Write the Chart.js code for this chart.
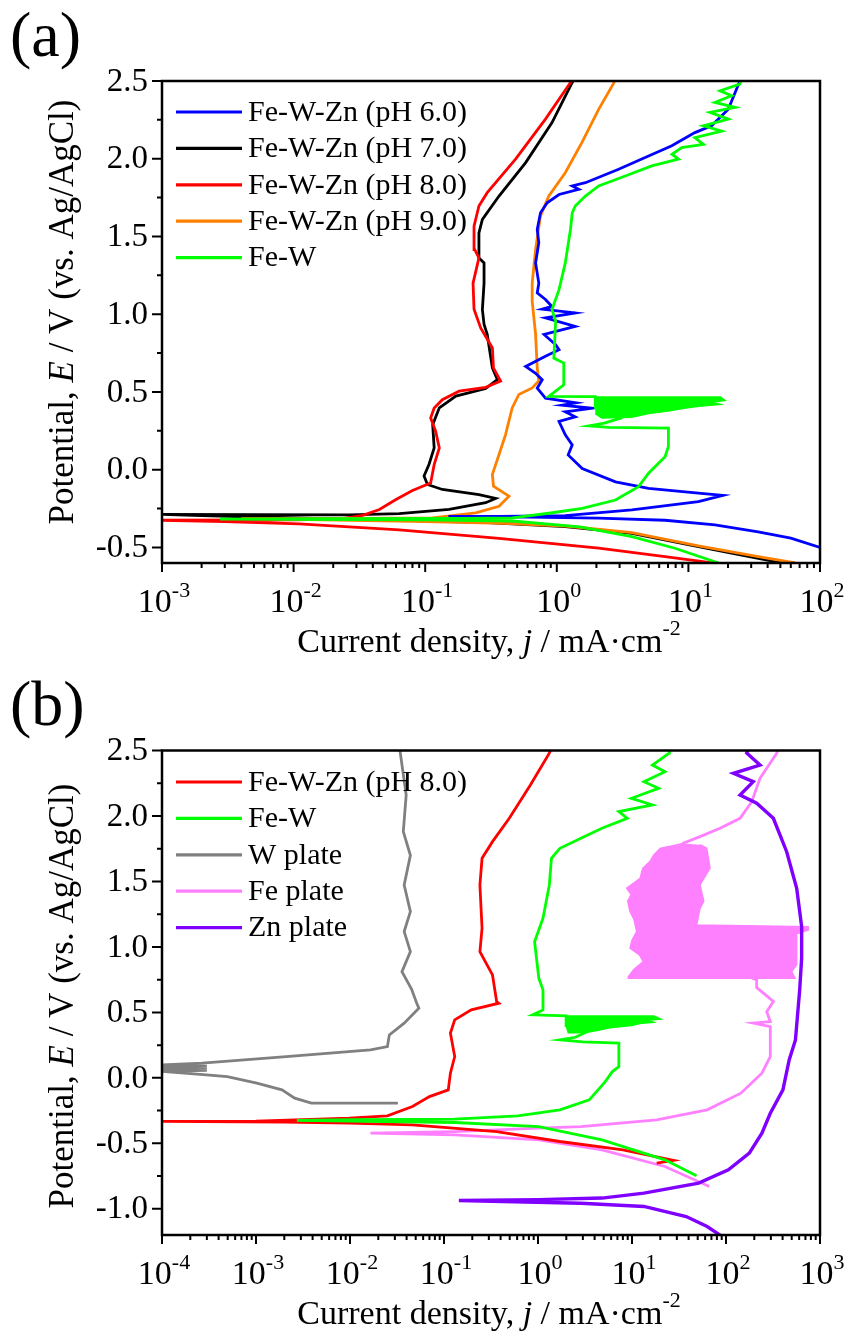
<!DOCTYPE html>
<html>
<head>
<meta charset="utf-8">
<script src="https://cdn.jsdelivr.net/npm/chart.js@4"></script>
<style>
  html, body { margin: 0; padding: 0; background: #fff; }
  canvas { display: block; }
</style>
</head>
<body>
<canvas id="chartA" width="844" height="669"></canvas>
<canvas id="chartB" width="844" height="669"></canvas>
<script>
// Polarization curves, points are [j (mA cm-2), E (V vs. Ag/AgCl)]

// ---------- panel (a) ----------
const tickExpA = [-3, -2, -1, 0, 1, 2];
const yTicksA = [-0.5, 0.0, 0.5, 1.0, 1.5, 2.0, 2.5];

const fewzn6A = [[100,-0.50],[60,-0.44],[33.9,-0.40],[15.9,-0.355],[6.65,-0.325],[2.08,-0.312],[0.6,-0.305],[0.15,-0.30],[0.364,-0.30],[1.16,-0.295],[3.72,-0.258],[11.9,-0.205],[18.3,-0.165],[11.9,-0.15],[4.98,-0.12],[2.79,-0.078],[1.56,0.008],[1.22,0.095],[1.31,0.16],[1.16,0.225],[1.04,0.31],[1.38,0.34],[1.16,0.372],[1.85,0.395],[1.1,0.415],[1.4,0.43],[0.82,0.46],[0.71,0.524],[0.775,0.578],[0.69,0.62],[0.58,0.664],[0.82,0.73],[1.04,0.772],[0.98,0.804],[0.80,0.87],[1.38,0.922],[0.82,0.976],[1.38,1.008],[0.775,1.032],[0.92,1.05],[0.82,1.095],[0.71,1.137],[0.73,1.2],[0.69,1.33],[0.73,1.46],[0.71,1.545],[0.752,1.652],[0.845,1.717],[1.04,1.77],[1.47,1.803],[1.31,1.825],[1.65,1.846],[2.95,1.932],[4.98,2.018],[7.48,2.083],[11.2,2.168],[15.0,2.212],[20.1,2.318],[24.6,2.5]];

const fewzn7A = [[52,-0.6],[34,-0.57],[11.9,-0.495],[3.72,-0.409],[1.16,-0.366],[0.3,-0.34],[0.05,-0.322],[0.005,-0.305],[0.0015,-0.292],[0.001,-0.287],[0.0266,-0.29],[0.0635,-0.283],[0.152,-0.255],[0.288,-0.212],[0.343,-0.185],[0.256,-0.16],[0.135,-0.127],[0.104,-0.095],[0.098,-0.04],[0.107,0.035],[0.117,0.14],[0.114,0.29],[0.128,0.398],[0.171,0.473],[0.288,0.522],[0.353,0.58],[0.324,0.655],[0.296,0.87],[0.28,0.935],[0.272,1.03],[0.28,1.2],[0.28,1.33],[0.256,1.362],[0.256,1.523],[0.272,1.61],[0.364,1.76],[0.58,1.975],[0.92,2.233],[1.29,2.48],[1.33,2.5]];

const fewzn8A = [[19,-0.61],[6.65,-0.559],[2.08,-0.505],[0.364,-0.441],[0.0635,-0.387],[0.011,-0.349],[0.003,-0.333],[0.001,-0.325],[0.01,-0.322],[0.0223,-0.318],[0.0335,-0.293],[0.0449,-0.256],[0.06,-0.192],[0.08,-0.134],[0.11,-0.085],[0.117,0.033],[0.128,0.14],[0.12,0.248],[0.11,0.333],[0.117,0.397],[0.135,0.45],[0.181,0.505],[0.288,0.53],[0.374,0.57],[0.33,0.655],[0.324,0.783],[0.264,0.912],[0.235,1.032],[0.231,1.2],[0.256,1.362],[0.238,1.416],[0.235,1.567],[0.256,1.696],[0.296,1.782],[0.486,1.997],[0.82,2.255],[1.27,2.49],[1.3,2.5]];

const fewzn9A = [[65,-0.6],[34,-0.559],[11.9,-0.49],[3.72,-0.405],[1.16,-0.362],[0.4,-0.345],[0.1,-0.333],[0.01,-0.32],[0.004,-0.315],[0.03,-0.313],[0.114,-0.31],[0.242,-0.278],[0.364,-0.235],[0.433,-0.17],[0.33,-0.106],[0.324,-0.03],[0.364,0.098],[0.408,0.226],[0.458,0.397],[0.515,0.484],[0.65,0.526],[0.73,0.57],[0.71,0.655],[0.69,0.87],[0.65,1.084],[0.65,1.2],[0.69,1.416],[0.75,1.631],[0.87,1.76],[1.16,1.91],[1.55,2.104],[2.08,2.318],[2.70,2.485],[2.75,2.5]];

const feWA = [[17,-0.6],[7.9,-0.505],[3.72,-0.43],[1.5,-0.368],[0.458,-0.33],[0.1,-0.322],[0.01,-0.32],[0.00275,-0.318],[0.02,-0.315],[0.2,-0.313],[0.458,-0.31],[0.87,-0.28],[1.56,-0.248],[2.79,-0.195],[4.18,-0.109],[4.98,-0.023],[6.65,0.084],[7.05,0.15],[7.05,0.267],[2.5,0.272],[1.75,0.282],[2.3,0.3],[3.0,0.33],[1.96,0.40],[1.96,0.47],[0.87,0.472],[1.13,0.546],[1.13,0.686],[0.95,0.718],[0.98,0.955],[0.92,1.03],[1.04,1.158],[1.16,1.33],[1.27,1.545],[1.31,1.652],[1.38,1.696],[1.65,1.76],[2.08,1.825],[3.31,1.889],[5.27,1.954],[8.4,1.997],[7.5,2.029],[8.9,2.072],[13.0,2.093],[11.2,2.136],[17.9,2.178],[13.0,2.212],[20.1,2.255],[14.6,2.298],[22.6,2.33],[15.9,2.362],[21.3,2.405],[17.4,2.437],[24.6,2.48],[25,2.5]];
// dense oscillation band of Fe-W between 0.33 and 0.47 V
const feWBandA = [[1.96,0.468],[17.5,0.468],[19.0,0.445],[15.0,0.435],[17.5,0.42],[12.0,0.408],[9.0,0.393],[7.0,0.378],[5.0,0.362],[3.7,0.338],[2.2,0.332],[1.96,0.36]];

// ---------- panel (b) ----------
const tickExpB = [-4, -3, -2, -1, 0, 1, 2, 3];
const yTicksB = [-1.0, -0.5, 0.0, 0.5, 1.0, 1.5, 2.0, 2.5];

const fewzn8B = [[18.3,-0.651],[27.6,-0.63],[8.0,-0.55],[1.71,-0.486],[0.363,-0.41],[0.046,-0.359],[0.01,-0.345],[0.002,-0.338],[0.0001,-0.333],[0.001,-0.33],[0.00986,-0.308],[0.025,-0.29],[0.0462,-0.219],[0.07,-0.143],[0.111,-0.092],[0.117,0.036],[0.13,0.163],[0.117,0.341],[0.13,0.443],[0.195,0.519],[0.383,0.57],[0.363,0.583],[0.328,0.786],[0.241,0.964],[0.254,1.143],[0.241,1.473],[0.254,1.677],[0.328,1.804],[0.495,1.982],[0.83,2.237],[1.32,2.48],[1.35,2.5]];

const feWB = [[48.6,-0.748],[22.4,-0.626],[4.79,-0.473],[1.02,-0.372],[0.13,-0.341],[0.01,-0.33],[0.00272,-0.325],[0.0109,-0.32],[0.13,-0.315],[0.61,-0.29],[1.71,-0.244],[3.51,-0.168],[5.04,-0.041],[6.19,0.048],[7.25,0.086],[7.25,0.265],[3.0,0.275],[1.71,0.29],[2.5,0.31],[3.16,0.345],[2.0,0.40],[1.99,0.473],[0.875,0.481],[1.13,0.519],[1.13,0.672],[1.02,0.761],[0.92,1.04],[1.13,1.219],[1.32,1.473],[1.39,1.677],[1.71,1.753],[2.86,1.83],[4.79,1.906],[8.9,1.982],[7.25,2.033],[16.5,2.084],[9.86,2.135],[19.2,2.211],[13.4,2.262],[22.4,2.338],[16.5,2.389],[24.9,2.48],[25,2.5]];
const feWBandB = [[1.99,0.473],[17,0.473],[20.2,0.45],[15,0.44],[17,0.425],[12,0.415],[10,0.40],[6,0.385],[4.5,0.365],[3.16,0.345],[2.1,0.345],[1.99,0.40]];

const wPlateB = [[0.0323,-0.193],[0.00389,-0.193],[0.00258,-0.155],[0.00189,-0.092],[0.00102,-0.04],[0.000495,0.01],[0.000296,0.023],[0.0001,0.05],[0.0003,0.058],[0.0001,0.066],[0.0003,0.074],[0.0001,0.082],[0.0003,0.09],[0.0001,0.099],[0.000267,0.112],[0.0021,0.163],[0.0165,0.214],[0.025,0.239],[0.0262,0.328],[0.0377,0.418],[0.054,0.532],[0.0513,0.57],[0.045,0.68],[0.0357,0.811],[0.0439,0.964],[0.0377,1.117],[0.0439,1.27],[0.0377,1.473],[0.0439,1.70],[0.0369,1.88],[0.0396,2.16],[0.034,2.5]];

const fePlateB = [[66.4,-0.83],[22.4,-0.677],[4.79,-0.55],[1.02,-0.473],[0.13,-0.435],[0.0165,-0.422],[0.13,-0.41],[1.02,-0.384],[2.86,-0.372],[18.3,-0.321],[63,-0.244],[144,-0.117],[241,0.036],[296,0.163],[296,0.392],[196,0.418],[296,0.43],[271,0.506],[319,0.583],[250,0.647],[212,0.69],[212,0.748],[30,1.0],[20,1.6],[35.1,1.792],[52.9,1.842],[86.3,1.906],[141,1.982],[188,2.109],[230,2.288],[346,2.479],[355,2.5]];
// unstable passive region of the Fe plate
const fePlateBandB = [[35.1,1.79],[19.9,1.753],[17,1.70],[15.5,1.651],[13,1.60],[12.2,1.524],[8.78,1.448],[9.8,1.40],[9.0,1.35],[9.52,1.27],[10.5,1.21],[11.2,1.117],[10,1.05],[9.52,0.99],[12,0.94],[13.2,0.888],[10.5,0.83],[9.14,0.773],[9.14,0.761],[542,0.761],[500,0.811],[565,0.863],[565,1.10],[752,1.13],[752,1.155],[48.7,1.168],[52.9,1.295],[58,1.35],[52.9,1.473],[67.6,1.601],[62.4,1.753],[52.9,1.78]];

const znPlateB = [[90.6,-1.211],[63,-1.135],[37.7,-1.059],[13.4,-0.982],[2.86,-0.957],[0.144,-0.937],[1.0,-0.93],[4.79,-0.918],[13.4,-0.88],[51.2,-0.804],[106,-0.702],[177,-0.575],[241,-0.422],[296,-0.27],[403,-0.092],[470,0.137],[548,0.29],[608,0.672],[638,0.914],[638,1.155],[565,1.448],[442,1.727],[319,1.982],[212,2.097],[141,2.16],[195,2.262],[120,2.326],[230,2.389],[166,2.48],[170,2.5]];

// ---------- drawing helpers ----------
const SERIF = '"Liberation Serif"';
const pts = arr => arr.map(([x, y]) => ({ x, y }));

function curve(label, arr, color, order, width) {
    return { label, data: pts(arr), borderColor: color, backgroundColor: color, borderWidth: width || 2.8,
             showLine: true, pointRadius: 0, tension: 0, fill: false, order };
}
function band(arr, color, order) {
    return { type: 'line', data: pts(arr), borderColor: color, backgroundColor: color, borderWidth: 1.5,
             pointRadius: 0, tension: 0, fill: 'shape', order };
}

function fontOf(size, italic) {
    return (italic ? 'italic ' : '') + size + 'px ' + SERIF;
}

// draw a row of text pieces (italic / superscript) centred on x
function drawRuns(ctx, runs, x, y) {
    let total = 0;
    runs.forEach(r => { ctx.font = fontOf(r.size, r.italic); r.w = ctx.measureText(r.text).width; total += r.w; });
    let cx = x - total / 2;
    ctx.textAlign = 'left';
    ctx.textBaseline = 'alphabetic';
    runs.forEach(r => { ctx.font = fontOf(r.size, r.italic); ctx.fillText(r.text, cx, y - (r.rise || 0)); cx += r.w; });
}

const frameAxes = {
    id: 'frameAxes',
    afterDraw(chart, args, o) {
        const { ctx, chartArea: a, scales: { x, y } } = chart;
        ctx.save();
        ctx.strokeStyle = '#000';
        ctx.fillStyle = '#000';

        // plot frame
        ctx.lineWidth = 2.5;
        ctx.strokeRect(a.left, a.top, a.right - a.left, a.bottom - a.top);

        // y ticks (major 0.5, minor 0.25), pointing out
        ctx.lineWidth = 2;
        ctx.beginPath();
        o.yTicks.forEach((v, i) => {
            const py = y.getPixelForValue(v);
            ctx.moveTo(a.left, py); ctx.lineTo(a.left - 10, py);
            if (i < o.yTicks.length - 1) {
                const pm = y.getPixelForValue(v + 0.25);
                ctx.moveTo(a.left, pm); ctx.lineTo(a.left - 5, pm);
            }
        });
        // x ticks, decades and 2..9 in between
        o.xExp.forEach((e, i) => {
            const px = x.getPixelForValue(Math.pow(10, e));
            ctx.moveTo(px, a.bottom); ctx.lineTo(px, a.bottom + 9);
            if (i < o.xExp.length - 1) {
                for (let m = 2; m < 10; m++) {
                    const pm = x.getPixelForValue(m * Math.pow(10, e));
                    ctx.moveTo(pm, a.bottom); ctx.lineTo(pm, a.bottom + 5);
                }
            }
        });
        ctx.stroke();

        // y tick labels
        ctx.font = fontOf(33);
        ctx.textAlign = 'right';
        ctx.textBaseline = 'middle';
        o.yTicks.forEach(v => ctx.fillText(v.toFixed(1), a.left - 14, y.getPixelForValue(v) + 1));

        // x tick labels 10^n
        o.xExp.forEach(e => {
            drawRuns(ctx, [{ text: '10', size: 34 }, { text: String(e), size: 22, rise: 15 }],
                     x.getPixelForValue(Math.pow(10, e)) + 2, a.bottom + 49);
        });

        // axis titles
        drawRuns(ctx, [
            { text: 'Current density, ', size: 34 },
            { text: 'j', size: 34, italic: true },
            { text: ' / mA\u00b7cm', size: 34 },
            { text: '-2', size: 22, rise: 17 }
        ], (a.left + a.right) / 2 - 2, a.bottom + 89);

        ctx.save();
        ctx.translate(73, o.yTitleY);
        ctx.rotate(-Math.PI / 2);
        drawRuns(ctx, [
            { text: 'Potential, ', size: 35 },
            { text: 'E', size: 35, italic: true },
            { text: ' / V (vs. Ag/AgCl)', size: 35 }
        ], 0, 0);
        ctx.restore();

        // panel letter
        ctx.font = fontOf(64);
        ctx.textAlign = 'left';
        ctx.textBaseline = 'alphabetic';
        ctx.fillText(o.panel, 10, 56);

        // legend
        const items = chart.data.datasets.filter(d => d.label);
        items.forEach((d, i) => {
            const ly = o.legendY + i * o.legendStep;
            ctx.strokeStyle = d.borderColor;
            ctx.lineWidth = 3.2;
            ctx.beginPath();
            ctx.moveTo(176, ly); ctx.lineTo(242, ly);
            ctx.stroke();
            ctx.fillStyle = '#000';
            ctx.font = fontOf(30);
            ctx.textBaseline = 'middle';
            ctx.fillText(d.label, 248, ly + 1);
        });
        ctx.restore();
    }
};

function makeChart(id, datasets, opt) {
    return new Chart(document.getElementById(id), {
        type: 'scatter',
        data: { datasets },
        options: {
            responsive: false,
            animation: false,
            devicePixelRatio: 1,
            layout: { padding: { left: 162, right: 24, top: opt.top, bottom: opt.bottom } },
            scales: {
                x: {
                    type: 'logarithmic',
                    min: Math.pow(10, opt.xExp[0]),
                    max: Math.pow(10, opt.xExp[opt.xExp.length - 1]),
                    grid: { display: false }, border: { display: false }, ticks: { display: false },
                    afterFit: s => { s.height = 0; }
                },
                y: {
                    type: 'linear', min: opt.yMin, max: opt.yMax,
                    grid: { display: false }, border: { display: false }, ticks: { display: false },
                    afterFit: s => { s.width = 0; }
                }
            },
            plugins: {
                legend: { display: false },
                tooltip: { enabled: false },
                frameAxes: {
                    panel: opt.panel, xExp: opt.xExp, yTicks: opt.yTicks,
                    yTitleY: opt.yTitleY, legendY: opt.legendY, legendStep: 36.4
                }
            }
        },
        plugins: [frameAxes]
    });
}

function build() {
    makeChart('chartA', [
        curve('Fe-W-Zn (pH 6.0)', fewzn6A, '#0000ff', 1),
        curve('Fe-W-Zn (pH 7.0)', fewzn7A, '#000000', 4),
        curve('Fe-W-Zn (pH 8.0)', fewzn8A, '#ff0000', 3),
        curve('Fe-W-Zn (pH 9.0)', fewzn9A, '#ff8000', 2),
        curve('Fe-W', feWA, '#00ff00', 0),
        band(feWBandA, '#00ff00', 0)
    ], { panel: '(a)', xExp: tickExpA, yTicks: yTicksA, yMin: -0.6, yMax: 2.5,
         top: 81, bottom: 106, yTitleY: 312, legendY: 112 });

    makeChart('chartB', [
        curve('Fe-W-Zn (pH 8.0)', fewzn8B, '#ff0000', 1),
        curve('Fe-W', feWB, '#00ff00', 0),
        curve('W plate', wPlateB, '#808080', 4),
        curve('Fe plate', fePlateB, '#ff80ff', 3),
        curve('Zn plate', znPlateB, '#8000ff', 2, 3.4),
        band(feWBandB, '#00ff00', 0),
        band(fePlateBandB, '#ff80ff', 3)
    ], { panel: '(b)', xExp: tickExpB, yTicks: yTicksB, yMin: -1.2, yMax: 2.5,
         top: 81.5, bottom: 103, yTitleY: 327, legendY: 113 });
}

// make sure the serif face is ready before the canvases are painted
Promise.all([
    document.fonts.load('32px "Liberation Serif"'),
    document.fonts.load('italic 32px "Liberation Serif"')
]).then(build, build);
</script>
</body>
</html>
